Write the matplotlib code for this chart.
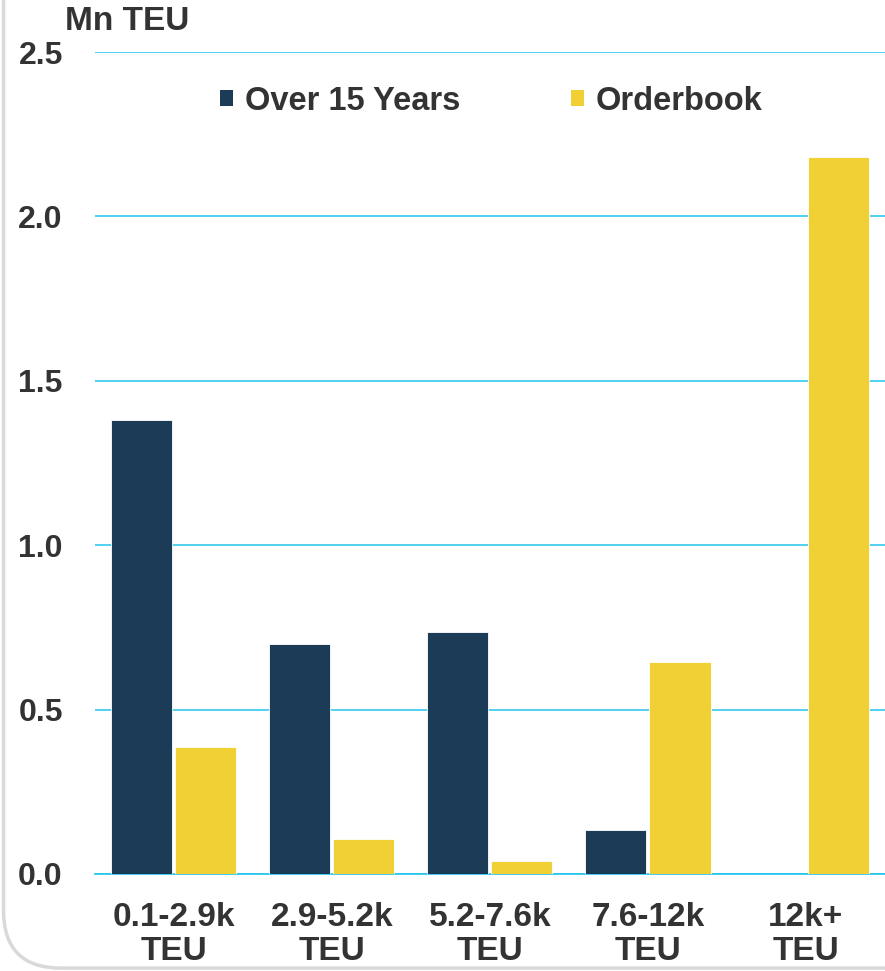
import matplotlib
matplotlib.use("Agg")
import matplotlib.pyplot as plt
from matplotlib.patches import FancyBboxPatch, Patch
import numpy as np

categories = ["0.1-2.9k\nTEU", "2.9-5.2k\nTEU", "5.2-7.6k\nTEU", "7.6-12k\nTEU", "12k+\nTEU"]
over_15_years = [1.38, 0.70, 0.735, 0.135, 0.0]
orderbook = [0.385, 0.105, 0.04, 0.645, 2.18]
y_ticks = [0.0, 0.5, 1.0, 1.5, 2.0, 2.5]

navy = "#1b3b56"
yellow = "#f0d035"
grid_c = "#22c4ee"
text_c = "#333333"

plt.rcParams["font.family"] = ["Liberation Sans", "DejaVu Sans"]
plt.rcParams["font.weight"] = "bold"

fig = plt.figure(figsize=(8.85, 9.71), dpi=100)
ax = fig.add_axes([0.107, 0.0999, 0.893, 0.8465])

x = np.arange(len(categories))
w = 0.386
gap = 0.01
ax.bar(x - w / 2 - gap, over_15_years, width=w, color=navy, edgecolor="white", linewidth=0.6, zorder=3)
ax.bar(x + w / 2 + gap, orderbook, width=w, color=yellow, edgecolor="white", linewidth=0.6, zorder=3)

ax.set_xlim(-0.5, 4.5)
ax.set_ylim(0, 2.5)
ax.set_yticks(y_ticks)
ax.set_yticklabels([f"{v:.1f}" for v in y_ticks])
ax.set_xticks(x)
ax.set_xticklabels(categories)
ax.tick_params(axis="y", length=0, pad=23, labelsize=23, labelcolor=text_c)
ax.tick_params(axis="x", length=0, pad=20, labelsize=24, labelcolor=text_c)
for lbl in ax.get_xticklabels():
    lbl.set_linespacing(1.15)

for s in ["top", "right", "left"]:
    ax.spines[s].set_visible(False)
ax.spines["bottom"].set_color(grid_c)
ax.spines["bottom"].set_linewidth(1.2)
ax.yaxis.grid(True, color=grid_c, linewidth=1.1, zorder=0)
ax.set_axisbelow(True)

handles = [Patch(facecolor=navy), Patch(facecolor=yellow)]
ax.legend(handles, ["Over 15 Years", "Orderbook"], ncol=2, frameon=False,
          loc="upper center", bbox_to_anchor=(0.502, 0.995), fontsize=23.5,
          handlelength=0.4, handleheight=0.4, handletextpad=0.35,
          columnspacing=3.4, labelcolor=text_c)

fig.text(0.0735, 0.978, "Mn TEU", fontsize=24, color=text_c, ha="left", va="center", fontweight="bold")

# light rounded frame around the panel
frame = FancyBboxPatch((0.004, 0.003), 1.2, 1.1, boxstyle="round,pad=0,rounding_size=0.065",
                       transform=fig.transFigure, facecolor="none", edgecolor="#d9d9d9",
                       linewidth=2.5, zorder=0, mutation_aspect=885 / 971)
fig.patches.append(frame)

fig.savefig("out.png", dpi=100, facecolor="white")
